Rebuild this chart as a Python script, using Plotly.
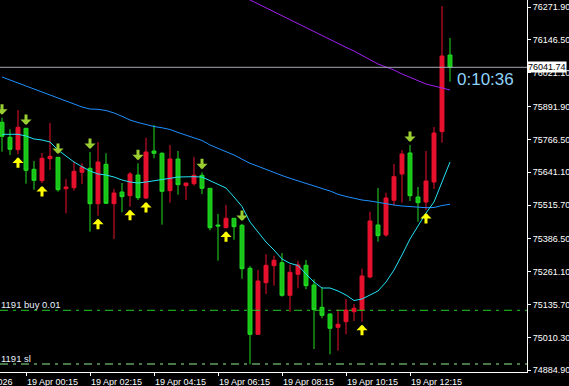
import plotly.graph_objects as go

# ---------------- data ----------------
opens = [75831.8, 75774.5, 75727.2, 75808.9, 75652.3, 75608.8, 75692.8, 75698.1, 75578.2, 75582.1,
         75640.9, 75656.1, 75521.0, 75671.4, 75521.0, 75565.6, 75551.5, 75630.5, 75542.7, 75722.2,
         75713.4, 75570.6, 75691.6, 75589.7, 75597.3, 75629.4, 75579.8, 75439.6, 75429.3, 75465.2,
         75438.5, 75274.3, 75022.3, 75219.4, 75284.3, 75295.7, 75171.2, 75251.4, 75285.8, 75210.6,
         75125.4, 75099.8, 75049.1, 75070.4, 75108.6, 75115.1, 75241.1, 75439.6, 75401.5, 75534.0,
         75634.4, 75714.5, 75546.6, 75527.5, 75603.8, 75795.9, 76088.7]
highs = [75849.3, 75805.0, 75878.7, 75810.0, 75684.0, 75714.5, 75829.1, 75699.0, 75615.3, 75681.3,
         75675.2, 75718.4, 75756.5, 75713.4, 75577.1, 75600.0, 75642.0, 75675.2, 75773.0, 75821.4,
         75717.2, 75745.1, 75722.2, 75600.0, 75699.3, 75640.9, 75580.5, 75481.6, 75516.0, 75466.0,
         75443.5, 75283.1, 75267.8, 75327.8, 75322.4, 75332.7, 75288.1, 75302.2, 75306.0, 75232.3,
         75200.3, 75102.5, 75117.8, 75157.1, 75138.0, 75272.8, 75490.4, 75580.9, 75563.0, 75672.5,
         75726.0, 75745.1, 75584.7, 75722.2, 75813.8, 76275.8, 76153.6]
lows = [75719.5, 75706.9, 75709.6, 75597.3, 75574.4, 75600.0, 75649.6, 75566.8, 75484.3, 75570.6,
        75596.2, 75414.1, 75475.2, 75519.8, 75386.2, 75488.1, 75509.5, 75535.1, 75538.9, 75694.3,
        75440.8, 75524.8, 75555.3, 75535.1, 75589.7, 75558.0, 75419.4, 75303.4, 75427.0, 75383.5,
        75234.6, 74907.8, 75019.7, 75176.2, 75207.9, 75165.9, 75108.6, 75198.0, 75194.2, 74966.2,
        75083.4, 74946.0, 74959.7, 75022.3, 75073.1, 75070.4, 75236.2, 75375.9, 75395.0, 75513.3,
        75524.8, 75531.3, 75452.2, 75496.9, 75577.1, 75753.9, 75986.8]
closes = [75778.3, 75728.7, 75812.7, 75648.5, 75610.3, 75694.3, 75701.9, 75574.4, 75584.7, 75644.7,
          75661.1, 75521.0, 75680.2, 75522.5, 75561.8, 75547.7, 75634.4, 75543.9, 75718.4, 75713.4,
          75568.3, 75691.6, 75593.5, 75600.0, 75629.4, 75579.8, 75429.3, 75435.8, 75465.2, 75433.2,
          75272.8, 75022.3, 75225.8, 75285.8, 75304.9, 75171.2, 75259.1, 75286.9, 75207.9, 75116.3,
          75094.9, 75045.2, 75060.5, 75115.1, 75121.6, 75244.9, 75454.9, 75398.8, 75542.7, 75624.1,
          75710.7, 75551.5, 75524.8, 75607.6, 75790.9, 76084.9, 76041.74]

ma_fast = [75785.9, 75785.9, 75785.9, 75779.5, 75768.0, 75764.2, 75756.5, 75726.0, 75703.1, 75680.2,
           75662.2, 75645.8, 75634.4, 75630.5, 75622.9, 75611.5, 75603.8, 75600.0, 75603.8, 75607.6,
           75611.5, 75617.9, 75622.9, 75624.1, 75624.1, 75622.9, 75609.6, 75594.3, 75580.9, 75546.6,
           75510.3, 75451.1, 75414.8, 75374.7, 75344.2, 75309.8, 75293.4, 75285.0, 75252.6, 75222.0,
           75199.1, 75199.1, 75187.7, 75172.4, 75151.4, 75157.1, 75172.4, 75187.7, 75222.0, 75267.8,
           75325.1, 75386.2, 75435.8, 75485.5, 75527.5, 75603.8, 75680.2]
ma_mid = [76004.7, 75993.3, 75981.8, 75970.4, 75958.9, 75947.4, 75936.0, 75922.6, 75911.2, 75901.6,
          75890.2, 75882.5, 75881.4, 75876.8, 75867.3, 75854.7, 75840.5, 75831.0, 75822.6, 75815.7,
          75810.8, 75804.3, 75792.8, 75783.3, 75773.7, 75762.3, 75745.1, 75733.6, 75719.5, 75706.9,
          75691.6, 75675.2, 75663.8, 75651.5, 75640.1, 75628.6, 75617.9, 75608.8, 75600.0, 75588.6,
          75579.0, 75569.5, 75556.9, 75548.5, 75540.8, 75535.1, 75531.3, 75525.6, 75521.7, 75516.0,
          75512.2, 75509.5, 75506.5, 75505.7, 75506.5, 75514.1, 75518.7]
ma_slow = [None] * 30 + [76314.0, 76298.7, 76283.4, 76268.2, 76252.9, 76237.6, 76222.3, 76207.1,
                         76191.8, 76176.5, 76161.3, 76146.0, 76132.6, 76118.1, 76104.0, 76086.8,
                         76071.5, 76054.3, 76042.9, 76031.4, 76016.2, 76002.8, 75989.4, 75978.0,
                         75970.4, 75962.7, 75955.1]

up_signals = [2, 5, 12, 16, 18, 28, 45, 53]
down_signals = [0, 3, 7, 11, 17, 25, 30, 51]

order_price = 75114.0
order_label = "1191 buy 0.01"
sl_price = 74908.9
sl_label = "1191 sl"
bid = 76041.74
timer_text = "0:10:36"

x_tick_idx = [3, 11, 19, 27, 35, 43, 51]
x_tick_text = ["19 Apr 00:15", "19 Apr 02:15", "19 Apr 04:15", "19 Apr 06:15",
               "19 Apr 08:15", "19 Apr 10:15", "19 Apr 12:15"]
first_date_label = "18 Apr 2026"
y_tick_text = ["76271.90", "76146.50", "76021.10", "75891.90", "75766.50", "75641.10",
               "75515.70", "75386.50", "75261.10", "75135.70", "75010.30", "74884.90"]
y_tick_vals = [float(t) for t in y_tick_text]

# ---------------- figure ----------------
x = list(range(len(opens)))
FONT = "Liberation Sans"
RED = "#e8112d"
GREEN_LINE = "#22dd22"
GREEN_FILL = "#17c417"

fig = go.Figure()
fig.add_trace(go.Scatter(x=x, y=ma_slow, mode="lines", line=dict(color="#a020f0", width=1),
                         hoverinfo="skip"))
fig.add_trace(go.Scatter(x=x, y=ma_mid, mode="lines", line=dict(color="#1e90ff", width=1),
                         hoverinfo="skip"))
fig.add_trace(go.Scatter(x=x, y=ma_fast, mode="lines", line=dict(color="#22e4f4", width=1),
                         hoverinfo="skip"))
fig.add_trace(go.Candlestick(
    x=x, open=opens, high=highs, low=lows, close=closes,
    increasing=dict(line=dict(color=RED, width=1), fillcolor=RED),
    decreasing=dict(line=dict(color=GREEN_LINE, width=1), fillcolor=GREEN_FILL),
    whiskerwidth=0,
))

annotations = []
for i in up_signals:
    annotations.append(dict(x=i, y=lows[i], xref="x", yref="y", text="", showarrow=True,
                            ax=0, ay=15, standoff=3, arrowhead=1, arrowsize=0.62,
                            arrowwidth=3, arrowcolor="#ffff00"))
for i in down_signals:
    annotations.append(dict(x=i, y=highs[i], xref="x", yref="y", text="", showarrow=True,
                            ax=0, ay=-15, standoff=3, arrowhead=1, arrowsize=0.62,
                            arrowwidth=3, arrowcolor="#9acd32"))

annotations += [
    dict(x=0, xref="paper", y=order_price, yref="y", text=order_label, showarrow=False,
         xanchor="left", yanchor="bottom", xshift=-1, yshift=-2,
         font=dict(family=FONT, size=9.5, color="#e8f0ff")),
    dict(x=0, xref="paper", y=sl_price, yref="y", text=sl_label, showarrow=False,
         xanchor="left", yanchor="bottom", xshift=-1, yshift=-2,
         font=dict(family=FONT, size=9.5, color="#e8f0ff")),
    dict(x=1, xref="paper", y=bid, yref="y", text=f"{bid:.2f}", showarrow=False,
         xanchor="left", yanchor="middle", xshift=0, bgcolor="white", borderpad=0,
         font=dict(family=FONT, size=9, color="black")),
    dict(x=1, xref="paper", y=bid, yref="y", text=timer_text, showarrow=False,
         xanchor="right", yanchor="top", xshift=-11, yshift=-1,
         font=dict(family=FONT, size=17, color="#8fd3f8")),
    dict(x=0, xref="paper", y=0, yref="paper", text=first_date_label, showarrow=False,
         xanchor="left", yanchor="top", xshift=-38, yshift=-3,
         font=dict(family=FONT, size=9, color="white")),
]

shapes = [
    dict(type="line", xref="paper", x0=0, x1=1, yref="y", y0=order_price, y1=order_price,
         line=dict(color="#22cc22", width=1, dash="8px,5px,3px,5px")),
    dict(type="line", xref="paper", x0=0, x1=1, yref="y", y0=sl_price, y1=sl_price,
         line=dict(color="#90ee90", width=1, dash="8px,5px,3px,5px")),
    dict(type="line", xref="paper", x0=0, x1=1, yref="y", y0=bid, y1=bid,
         line=dict(color="#a8a8b8", width=1)),
]

fig.update_layout(
    width=569, height=386,
    margin=dict(l=0, r=42, t=0, b=14),
    paper_bgcolor="black", plot_bgcolor="black",
    showlegend=False,
    annotations=annotations,
    shapes=shapes,
    xaxis=dict(range=[-0.25, 65.625], showgrid=False, zeroline=False,
               showline=True, linecolor="white", linewidth=1,
               ticks="outside", ticklen=3, tickcolor="white",
               tickvals=x_tick_idx, ticktext=x_tick_text,
               ticklabelposition="outside right", ticklabelstandoff=1,
               tickfont=dict(family=FONT, size=9, color="white"),
               rangeslider=dict(visible=False), fixedrange=True),
    yaxis=dict(side="right", range=[74878.4, 76298.7], showgrid=False, zeroline=False,
               showline=True, linecolor="white", linewidth=1,
               ticks="outside", ticklen=3, tickcolor="white",
               tickvals=y_tick_vals, ticktext=y_tick_text,
               tickfont=dict(family=FONT, size=9, color="white"), fixedrange=True),
)

fig.write_html("out.html")
